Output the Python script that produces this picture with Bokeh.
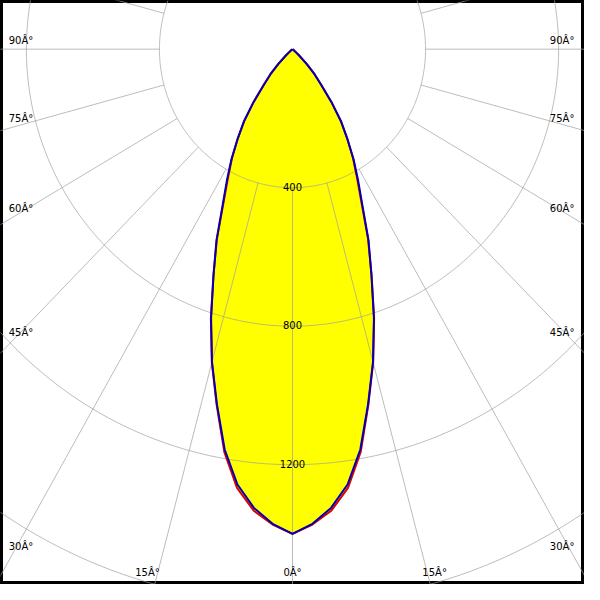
import numpy as np
from bokeh.plotting import figure
from bokeh.models import Range1d
from bokeh.embed import file_html
from bokeh.resources import INLINE
from bokeh.core.properties import value

# ---- data ----
gamma = [0, 2.5, 5, 7.5, 10, 12.5, 15, 17.5, 20, 22.5, 25, 27.5, 30, 32.5, 35,
         37.5, 40, 42.5, 45, 47.5, 50, 52.5, 55, 90, 180]
c90_270 = [1400, 1372, 1330, 1268, 1174, 1050, 935, 814, 694, 597, 497, 427, 367,
           307, 254, 192, 134, 98, 60, 28, 10, 3, 0, 0, 0]
c0_180 = [1400, 1374, 1338, 1278, 1181, 1053, 937, 816, 695, 594, 492, 421, 364,
          306, 253, 191, 134, 98, 60, 28, 10, 3, 0, 0, 0]
ring_values = [400, 800, 1200, 1600]
ring_labels = ["400", "800", "1200"]
spoke_angles = [0, 15, 30, 45, 60, 75, 90, 105, 120, 135, 150, 165, 180]
side_angles = [90, 75, 60, 45, 30]
side_labels = ["90Â°", "75Â°", "60Â°", "45Â°", "30Â°"]
bottom_angles = [15, 0, 15]
bottom_labels = ["15Â°", "0Â°", "15Â°"]

# ---- scales (reference picture: 600 px, non-uniform aspect) ----
SX = 136.7 / 400.0   # px per cd horizontally
SY = 142.3 / 400.0   # px per cd vertically
W = H = 584

p = figure(width=W, height=H, output_backend="svg", toolbar_location=None,
           x_range=Range1d(-300 / SX, 300 / SX), y_range=Range1d(-550 / SY, 50 / SY),
           x_axis_location=None, y_axis_location=None, min_border=0)
p.grid.visible = False
p.background_fill_color = "white"
p.border_fill_color = "white"
p.outline_line_color = "black"
p.outline_line_width = 5


def curve(vals):
    g = np.radians(np.array(gamma, dtype=float))
    r = np.array(vals, dtype=float)
    xr, yr = r * np.sin(g), -r * np.cos(g)
    xl, yl = -xr[::-1], yr[::-1]
    return np.concatenate([xl, xr[1:]]), np.concatenate([yl, yr[1:]])


xb, yb = curve(c90_270)
xr_, yr_ = curve(c0_180)

# fill
p.patch(xr_, yr_, fill_color="#ffff00", line_color=None)
p.patch(xb, yb, fill_color="#ffff00", line_color=None)

# grid rings
t = np.linspace(0, 2 * np.pi, 721)
grid_kw = dict(line_color="#a0a0a0", line_alpha=0.7, line_width=1)
for rv in ring_values:
    p.line(rv * np.sin(t), rv * np.cos(t), **grid_kw)

# spokes from the first ring outwards
for a in spoke_angles:
    for s in ([1, -1] if a not in (0, 180) else [1]):
        ar = np.radians(a) * s
        p.line([400 * np.sin(ar), 4000 * np.sin(ar)],
               [-400 * np.cos(ar), -4000 * np.cos(ar)], **grid_kw)

# curves
p.line(xr_, yr_, line_color="#dd0000", line_width=2)
p.line(xb, yb, line_color="#0000b8", line_width=2)

font = value("DejaVu Sans")
# ring labels
p.text(x=[0] * len(ring_labels), y=[-v for v in ring_values[:len(ring_labels)]],
       text=ring_labels, text_font=font, text_font_size="10px", text_color="black",
       text_align="center", text_baseline="alphabetic", y_offset=-1)

# side angle labels (placement in reference pixels -> data)
side_y_px = {90: 41.5, 75: 121, 60: 214, 45: 341, 30: 561}
sy = [(50 - side_y_px[a]) / SY for a in side_angles]
p.text(x=[(21 - 300) / SX] * len(side_angles), y=sy, text=side_labels,
       text_font=font, text_font_size="10px", text_color="black",
       text_align="center", text_baseline="middle")
p.text(x=[(577 - 300) / SX] * len(side_angles), y=sy, text=side_labels,
       text_font=font, text_font_size="10px", text_color="black",
       text_align="center", text_baseline="middle")

bottom_x_px = [151, 300, 446]
p.text(x=[(bx - 300) / SX for bx in bottom_x_px], y=[(50 - 588) / SY] * 3,
       text=bottom_labels, text_font=font, text_font_size="10px", text_color="black",
       text_align="center", text_baseline="middle")

open("out.html", "w").write(file_html(p, INLINE))
